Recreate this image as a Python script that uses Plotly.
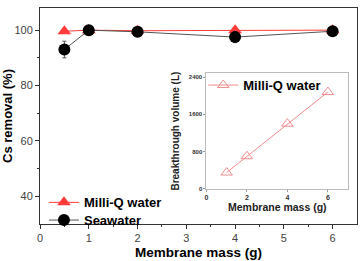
import plotly.graph_objects as go

mass = [0.5, 1, 2, 4, 6]
milliq_removal = [99.6, 100, 99.8, 100, 100]
sea_removal = [93.0, 100, 99.4, 97.5, 99.6]
sea_err = [3.0, 0.5, 0.6, 2.0, 0.5]
milliq_err = [0.3, 0.3, 0.3, 0.3, 0.3]

inset_mass = [1, 2, 4, 6]
breakthrough = [350, 700, 1400, 2080]

red = "#ff3b3b"
pink = "#f28b8b"

fig = go.Figure()
fig.add_trace(go.Scatter(
    x=mass, y=milliq_removal, name="<b>Milli-Q water</b>", mode="lines+markers",
    line=dict(color=red, width=1),
    marker=dict(symbol="triangle-up", size=12, color=red),
    error_y=dict(type="data", array=milliq_err, color=red, thickness=1, width=2),
))
fig.add_trace(go.Scatter(
    x=mass, y=sea_removal, name="<b>Seawater</b>", mode="lines+markers", legend="legend3",
    line=dict(color="#555555", width=1),
    marker=dict(symbol="circle", size=12, color="black"),
    error_y=dict(type="data", array=sea_err, color="#555555", thickness=1, width=2),
))
fig.add_trace(go.Scatter(
    x=inset_mass, y=breakthrough, name="<b>Milli-Q water</b>", mode="lines+markers",
    xaxis="x2", yaxis="y2", legend="legend2",
    line=dict(color=pink, width=1),
    marker=dict(symbol="triangle-up-open", size=10, color=pink, line=dict(width=1)),
))

fig.update_layout(
    width=361, height=261,
    margin=dict(l=38, r=3, t=8, b=32),
    plot_bgcolor="white", paper_bgcolor="white",
    font=dict(family="Liberation Sans, Arial", color="#333333"),
    xaxis=dict(
        range=[0, 6.5], tickvals=[0, 1, 2, 3, 4, 5, 6], showgrid=False, zeroline=False,
        showline=True, linecolor="#333333", linewidth=1, mirror=True,
        ticks="outside", ticklen=4, tickcolor="#333333", tickfont=dict(size=11, color="#444"),
        minor=dict(tickvals=[0.5, 1.5, 2.5, 3.5, 4.5, 5.5], ticks="outside", ticklen=2, tickcolor="#333333"),
        title=dict(text="<b>Membrane mass (g)</b>", font=dict(size=13.5, color="black"), standoff=4),
    ),
    yaxis=dict(
        range=[30, 108], tickvals=[40, 60, 80, 100], showgrid=False, zeroline=False,
        showline=True, linecolor="#333333", linewidth=1, mirror=True,
        ticks="outside", ticklen=4, tickcolor="#333333", tickfont=dict(size=11, color="#444"),
        minor=dict(tickvals=[50, 70, 90], ticks="outside", ticklen=2, tickcolor="#333333"),
        title=dict(text="<b>Cs removal (%)</b>", font=dict(size=13, color="black"), standoff=2),
    ),
    xaxis2=dict(
        domain=[0.525, 0.972], anchor="y2", range=[0, 7], tickvals=[0, 2, 4, 6],
        ticktext=["<b>0</b>", "<b>2</b>", "<b>4</b>", "<b>6</b>"],
        showgrid=False, zeroline=False, showline=True, linecolor="#bbbbbb", mirror=True,
        ticks="outside", ticklen=2, tickcolor="#999", tickfont=dict(size=7, color="#333"),
        title=dict(text="<b>Membrane mass (g)</b>", font=dict(size=10.5, color="#222"), standoff=2),
    ),
    yaxis2=dict(
        domain=[0.163, 0.697], anchor="x2", range=[0, 2480], tickvals=[0, 800, 1600, 2400],
        ticktext=["<b>0</b>", "<b>800</b>", "<b>1600</b>", "<b>2400</b>"],
        showgrid=False, zeroline=False, showline=True, linecolor="#bbbbbb", mirror=True,
        ticks="outside", ticklen=2, tickcolor="#999", tickfont=dict(size=6, color="#333"),
        title=dict(text="<b>Breakthrough volume (L)</b>", font=dict(size=10, color="#222"), standoff=7),
    ),
    legend=dict(x=0.0125, y=0.1, xanchor="left", yanchor="middle", bgcolor="rgba(0,0,0,0)",
                font=dict(size=13, color="black"), itemwidth=30),
    legend3=dict(x=0.0125, y=0.018, xanchor="left", yanchor="middle", bgcolor="rgba(0,0,0,0)",
                 font=dict(size=13, color="black"), itemwidth=30),
    legend2=dict(x=0.515, y=0.643, xanchor="left", yanchor="middle", bgcolor="rgba(0,0,0,0)",
                 font=dict(size=13, color="black"), itemwidth=30),
    showlegend=True,
)

fig.write_html("out.html")
